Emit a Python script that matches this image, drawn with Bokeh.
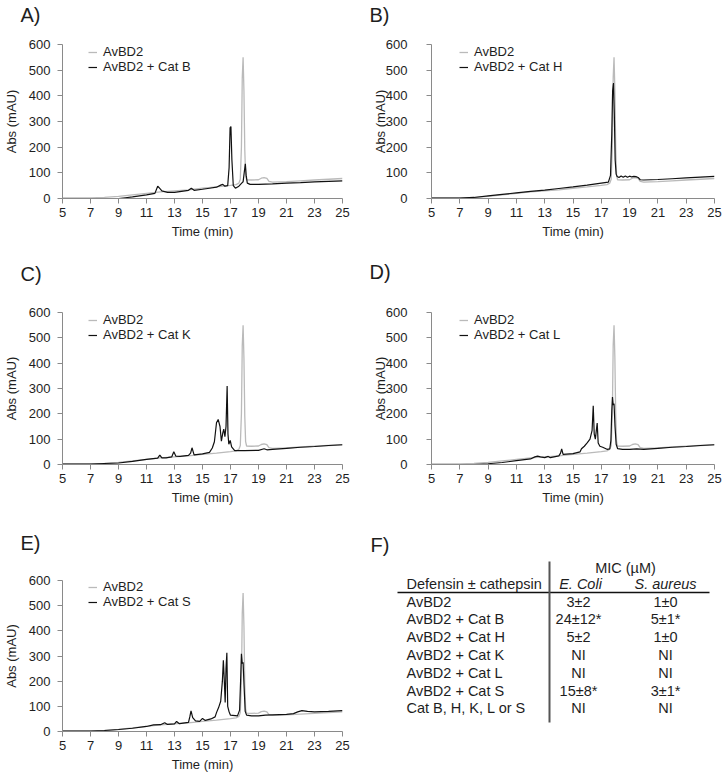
from bokeh.plotting import figure
from bokeh.models import Range1d, FixedTicker, Legend, LegendItem, Title
from bokeh.layouts import column, row
from bokeh.embed import file_html
from bokeh.resources import INLINE
from bokeh.core.properties import value

FONT = "Liberation Sans"

# ---------------- data ----------------
x_ticks = [5, 7, 9, 11, 13, 15, 17, 19, 21, 23, 25]
y_ticks = [0, 100, 200, 300, 400, 500, 600]

# AvBD2 alone (grey trace, same in every panel)
t_avbd2 = [5.0, 6.0, 7.0, 8.0, 9.0, 10.0, 11.0, 12.0, 13.0, 14.0, 15.0, 16.0, 16.5, 17.0,
           17.4, 17.6, 17.7, 17.78, 17.84, 17.9, 17.96, 18.02, 18.08, 18.15, 18.5, 19.0,
           19.2, 19.4, 19.6, 19.75, 20.0, 21.0, 22.0, 23.0, 24.0, 25.0]
v_avbd2 = [2, 2, 2, 4, 8, 14, 20, 26, 30, 34, 40, 45, 48, 51,
           54, 60, 75, 200, 470, 550, 420, 190, 90, 73, 72, 73,
           79, 81, 78, 67, 64, 66, 69, 72, 75, 78]

# AvBD2 + Cat B
t_catB = [5.0, 7.0, 9.0, 9.5, 10.0, 11.0, 11.6, 11.8, 11.9, 12.1, 12.5, 13.0, 13.5, 14.0,
          14.2, 14.4, 15.0, 15.5, 16.0, 16.3, 16.45, 16.6, 16.8, 16.9, 16.97, 17.03, 17.1,
          17.2, 17.35, 17.6, 17.8, 17.9, 18.0, 18.06, 18.12, 18.2, 18.4, 19.0, 20.0, 21.0,
          22.0, 23.0, 24.0, 25.0]
v_catB = [0, 0, 0, 3, 6, 14, 20, 48, 42, 30, 24, 24, 28, 32,
          40, 32, 36, 40, 44, 52, 55, 48, 50, 120, 275, 280, 150,
          50, 40, 48, 60, 65, 110, 135, 90, 60, 55, 55, 57, 60,
          62, 65, 67, 69]

# AvBD2 + Cat H
t_catH = [5.0, 7.0, 8.0, 9.0, 10.0, 11.0, 12.0, 13.0, 14.0, 15.0, 16.0, 17.0, 17.5, 17.65,
          17.74, 17.8, 17.86, 17.92, 17.98, 18.05, 18.12, 18.25, 18.4, 18.55, 18.7, 18.85,
          19.0, 19.15, 19.3, 19.45, 19.6, 19.75, 20.0, 21.0, 22.0, 23.0, 24.0, 25.0]
v_catH = [2, 2, 4, 10, 16, 22, 28, 33, 39, 45, 52, 60, 64, 90,
          250, 420, 450, 330, 150, 95, 86, 82, 88, 83, 88, 83,
          87, 84, 86, 85, 82, 73, 72, 74, 77, 80, 83, 86]

# AvBD2 + Cat K
t_catK = [5.0, 7.0, 9.0, 10.0, 11.0, 11.8, 11.95, 12.1, 12.4, 12.8, 12.95, 13.1, 13.4, 14.0,
          14.15, 14.25, 14.4, 15.0, 15.5, 15.7, 15.85, 16.0, 16.12, 16.25, 16.35, 16.45,
          16.52, 16.6, 16.68, 16.76, 16.82, 16.88, 16.98, 17.08, 17.3, 18.0, 19.0, 19.4,
          19.6, 20.0, 21.0, 22.0, 23.0, 24.0, 25.0]
v_catK = [2, 2, 6, 12, 20, 25, 37, 26, 26, 30, 50, 33, 32, 36,
          45, 66, 38, 42, 48, 65, 90, 165, 178, 150, 92, 125,
          140, 110, 150, 310, 120, 80, 95, 70, 55, 55, 56, 62,
          58, 60, 64, 68, 71, 75, 78]

# AvBD2 + Cat L
t_catL = [5.0, 7.0, 8.0, 9.0, 10.0, 11.0, 12.0, 12.3, 12.5, 12.7, 13.0, 13.25, 13.4, 14.0,
          14.12, 14.2, 14.3, 15.0, 15.5, 15.6, 15.8, 16.0, 16.2, 16.35, 16.43, 16.5, 16.58,
          16.64, 16.71, 16.78, 16.9, 17.1, 17.4, 17.6, 17.68, 17.74, 17.79, 17.84, 17.9,
          17.97, 18.05, 18.15, 18.5, 19.0, 19.5, 20.0, 21.0, 22.0, 23.0, 24.0, 25.0]
v_catL = [0, 0, 0, 3, 8, 15, 22, 30, 33, 30, 27, 32, 27, 34,
          45, 62, 40, 43, 50, 62, 72, 85, 100, 135, 232, 120, 100,
          130, 164, 85, 72, 68, 60, 62, 95, 210, 266, 235, 240,
          150, 80, 63, 60, 60, 62, 60, 64, 68, 71, 75, 78]

# AvBD2 + Cat S
t_catS = [5.0, 7.0, 8.0, 9.0, 10.0, 11.0, 11.5, 12.0, 12.3, 12.5, 13.0, 13.15, 13.35, 14.0,
          14.1, 14.18, 14.3, 14.5, 14.8, 15.0, 15.2, 15.6, 15.9, 16.0, 16.15, 16.3, 16.42,
          16.49, 16.56, 16.62, 16.68, 16.74, 16.8, 16.9, 17.0, 17.5, 17.65, 17.72, 17.78,
          17.84, 17.9, 17.97, 18.05, 18.15, 18.5, 19.0, 19.5, 20.0, 21.0, 21.5, 21.8, 22.1,
          22.5, 23.0, 24.0, 25.0]
v_catS = [2, 2, 4, 8, 13, 20, 26, 27, 35, 28, 30, 40, 31, 36,
          60, 82, 55, 42, 40, 52, 44, 50, 58, 75, 95, 120, 200,
          283, 200, 115, 250, 313, 100, 78, 65, 62, 85, 200, 309,
          270, 275, 180, 80, 65, 62, 62, 65, 66, 68, 71, 78, 83,
          80, 78, 80, 83]

# Table (panel F)
table_header = ["Defensin \u00b1 cathepsin", "E. Coli", "S. aureus"]
table_group_header = "MIC (\u00b5M)"
defensins = ["AvBD2", "AvBD2 + Cat B", "AvBD2 + Cat H", "AvBD2 + Cat K",
             "AvBD2 + Cat L", "AvBD2 + Cat S", "Cat B, H, K, L or S"]
mic_ecoli = ["3\u00b12", "24\u00b112*", "5\u00b12", "NI", "NI", "15\u00b18*", "NI"]
mic_saureus = ["1\u00b10", "5\u00b11*", "1\u00b10", "NI", "NI", "3\u00b11*", "NI"]

# ---------------- styling ----------------
GREY = "#bababa"
BLACK = "#111111"
AXIS = "#8a8a8a"
TXT = "#1e1e1e"

LEFT_W, RIGHT_W = 362, 360


def chrom(letter, t_cat, v_cat, cat_label, left, top, frame_h, bottom, gap):
    height = top + frame_h + bottom
    p = figure(width=LEFT_W if left else RIGHT_W, height=height,
               x_range=Range1d(5, 25), y_range=Range1d(0, 600),
               output_backend="svg", toolbar_location=None, title=letter,
               min_border_left=57 if left else 69,
               min_border_right=20 if left else 8,
               min_border_top=top, min_border_bottom=bottom)
    p.grid.visible = False
    p.outline_line_color = None
    p.background_fill_color = "white"
    p.border_fill_color = "white"

    # panel letter (outermost "above" panel) with an invisible spacer below it
    p.title.text_font = FONT
    p.title.text_font_size = "20px"
    p.title.text_font_style = "normal"
    p.title.text_color = TXT
    p.title.align = "left"
    p.title.offset = -42 if left else -62
    p.title.standoff = 0
    p.add_layout(Title(text="\u00a0", text_font_size="8px", standoff=gap), "above")

    r1 = p.line(t_avbd2, v_avbd2, line_color=GREY, line_width=1.3)
    r2 = p.line(t_cat, v_cat, line_color=BLACK, line_width=1.2)

    p.xaxis.ticker = FixedTicker(ticks=x_ticks)
    p.yaxis.ticker = FixedTicker(ticks=y_ticks)
    p.xaxis.axis_label = "Time (min)"
    p.yaxis.axis_label = "Abs (mAU)"
    for ax in (p.xaxis[0], p.yaxis[0]):
        ax.axis_line_color = AXIS
        ax.axis_line_width = 1
        ax.major_tick_line_color = AXIS
        ax.major_tick_out = 5
        ax.major_tick_in = 0
        ax.minor_tick_line_color = None
        ax.major_label_text_font = FONT
        ax.major_label_text_font_size = "13px"
        ax.major_label_text_color = TXT
        ax.axis_label_text_font = FONT
        ax.axis_label_text_font_size = "13px"
        ax.axis_label_text_font_style = "normal"
        ax.axis_label_text_color = TXT
    p.xaxis.major_label_standoff = 4
    p.xaxis.axis_label_standoff = 4
    if left:
        p.yaxis.major_label_standoff = 7
        p.yaxis.axis_label_standoff = 7
    else:
        p.yaxis.major_label_standoff = 19
        p.yaxis.axis_label_standoff = -5

    lx = 26 if left else 28
    lg = Legend(items=[LegendItem(label="AvBD2", renderers=[r1]),
                       LegendItem(label=cat_label, renderers=[r2])],
                location=(lx, frame_h - 30))
    lg.background_fill_alpha = 0
    lg.border_line_color = None
    lg.padding = 0
    lg.margin = 0
    lg.spacing = 0
    lg.glyph_width = 9
    lg.glyph_height = 12
    lg.label_height = 12
    lg.label_standoff = 6
    lg.label_text_font = FONT
    lg.label_text_font_size = "13px"
    lg.label_text_color = TXT
    p.add_layout(lg)
    return p


# rows: (top border, frame height, bottom border, spacer under the letter)
pA = chrom("A)", t_catB, v_catB, "AvBD2 + Cat B", True, 44, 154, 59, 8)
pB = chrom("B)", t_catH, v_catH, "AvBD2 + Cat H", False, 44, 154, 59, 8)
pC = chrom("C)", t_catK, v_catK, "AvBD2 + Cat K", True, 55, 152, 64, 17)
pD = chrom("D)", t_catL, v_catL, "AvBD2 + Cat L", False, 55, 152, 64, 19)
pE = chrom("E)", t_catS, v_catS, "AvBD2 + Cat S", True, 52, 152, 42, 16)

# ---------------- table panel F ----------------
F_H = 52 + 152 + 42
pF = figure(frame_width=RIGHT_W, frame_height=F_H,
            x_range=Range1d(0, RIGHT_W), y_range=Range1d(0, F_H),
            output_backend="svg", toolbar_location=None,
            x_axis_location=None, y_axis_location=None, min_border=0)
pF.frame_align = False
pF.title.visible = False
pF.grid.visible = False
pF.outline_line_color = None

TFS = "14.5px"
col_name_x, col_ec_x, col_sa_x = 44, 216, 303
row_y0, row_step = 173, 17.83
row_ys = [row_y0 - i * row_step for i in range(len(defensins))]

pF.text(x=[8], y=[230], text=["F)"], text_font=value(FONT), text_font_size="20px",
        text_align="left", text_baseline="alphabetic", text_color=TXT)
pF.text(x=[263], y=[207], text=[table_group_header], text_font=value(FONT), text_font_size=TFS,
        text_align="center", text_baseline="middle", text_color=TXT)
pF.text(x=[col_name_x], y=[191], text=[table_header[0]], text_font=value(FONT), text_font_size=TFS,
        text_align="left", text_baseline="middle", text_color=TXT)
pF.text(x=[col_ec_x + 2, col_sa_x], y=[191, 191], text=table_header[1:], text_font=value(FONT),
        text_font_size=TFS, text_font_style="italic", text_align="center",
        text_baseline="middle", text_color=TXT)
pF.text(x=[col_name_x] * len(defensins), y=row_ys, text=defensins, text_font=value(FONT),
        text_font_size=TFS, text_align="left", text_baseline="middle", text_color=TXT)
pF.text(x=[col_ec_x] * len(mic_ecoli), y=row_ys, text=mic_ecoli, text_font=value(FONT),
        text_font_size=TFS, text_align="center", text_baseline="middle", text_color=TXT)
pF.text(x=[col_sa_x] * len(mic_saureus), y=row_ys, text=mic_saureus, text_font=value(FONT),
        text_font_size=TFS, text_align="center", text_baseline="middle", text_color=TXT)
pF.segment(x0=[35], y0=[182], x1=[347], y1=[182], line_color="#111111", line_width=1.5)
pF.segment(x0=[187], y0=[213], x1=[187], y1=[52], line_color="#555555", line_width=2)

layout = column(row(pA, pB), row(pC, pD), row(pE, pF))

open("out.html", "w").write(file_html(layout, INLINE))
